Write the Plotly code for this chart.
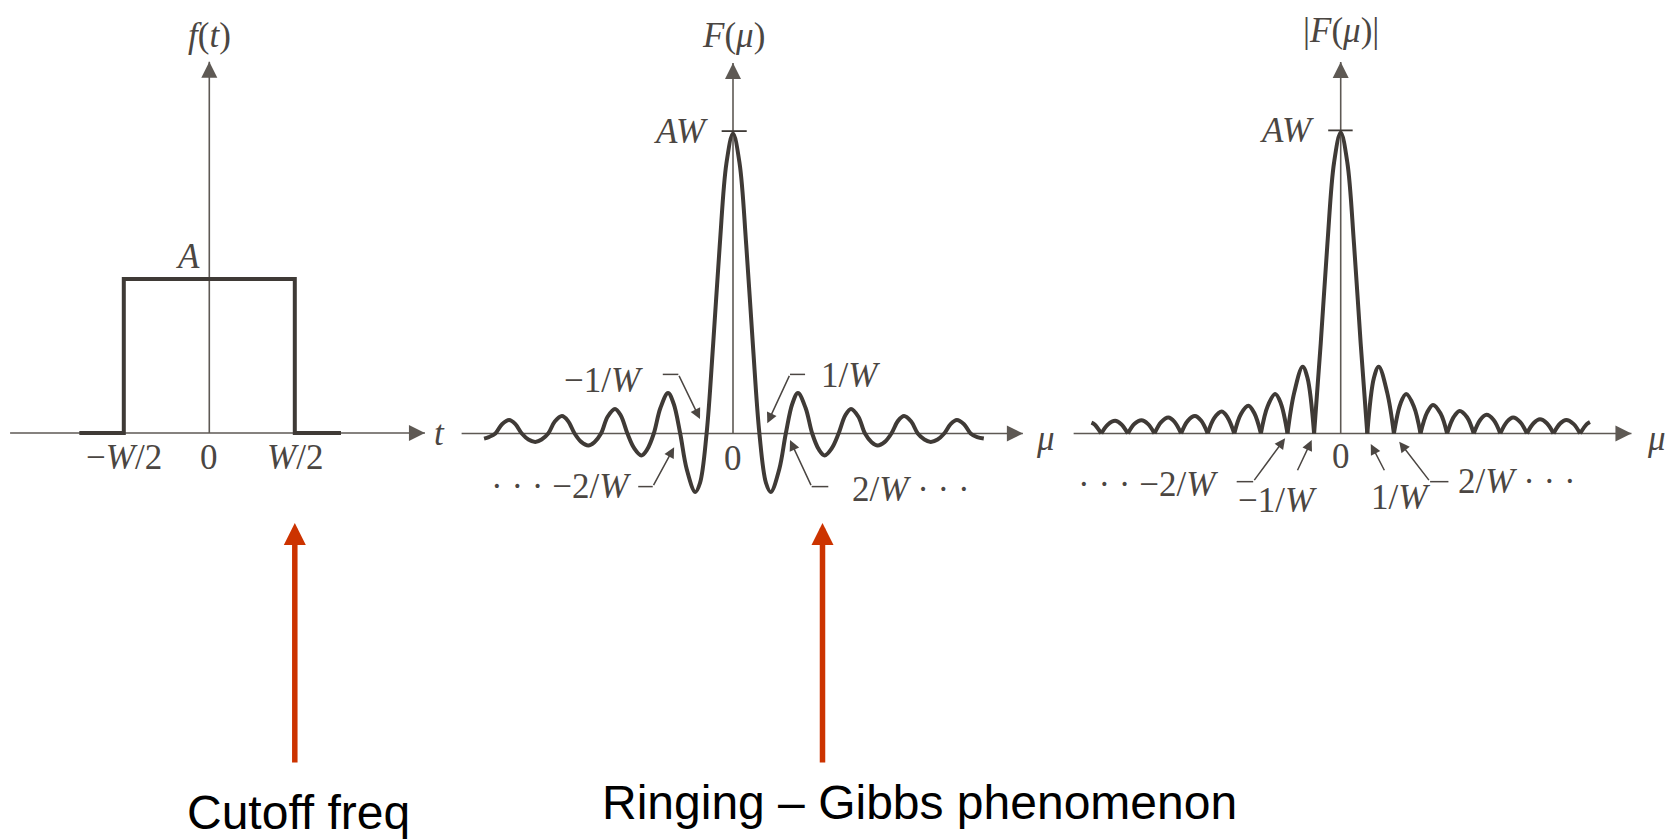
import plotly.graph_objects as go

W_PX, H_PX = 1675, 839

# ---------------- data ----------------
# panel 1 : rectangular pulse f(t), t in units of W, f in units of A
box_t = [-0.76, -0.5, -0.5, 0.5, 0.5, 0.77]
box_f = [0, 0, 1, 1, 0, 0]

# panel 2 : F(mu), mu in units of 1/W, F in units of AW
mu_F = [-9.43, -9.25, -9, -8.75, -8.48, -8.25, -8, -7.75, -7.49, -7.25, -7,
        -6.75, -6.48, -6.25, -6, -5.75, -5.48, -5.25, -5, -4.75, -4.47, -4.25,
        -4, -3.75, -3.47, -3.25, -3, -2.75, -2.46, -2.25, -2, -1.75, -1.43,
        -1.25, -1, -0.75, -0.5, -0.25, 0, 0.25, 0.5, 0.75, 1, 1.25, 1.43, 1.75,
        2, 2.25, 2.46, 2.75, 3, 3.25, 3.47, 3.75, 4, 4.25, 4.47, 4.75, 5, 5.25,
        5.48, 5.75, 6, 6.25, 6.48, 6.75, 7, 7.25, 7.49, 7.75, 8, 8.25, 8.48,
        8.75, 9, 9.25, 9.5]
F_val = [-0.017, -0.012, 0, 0.031, 0.045, 0.032, 0, -0.02, -0.028, -0.02, 0,
         0.040, 0.058, 0.042, 0, -0.028, -0.040, -0.029, 0, 0.056, 0.082, 0.060,
         0, -0.048, -0.073, -0.053, 0, 0.085, 0.135, 0.10, 0, -0.12, -0.195,
         -0.165, 0, 0.30, 0.63, 0.90, 1.0, 0.90, 0.63, 0.30, 0, -0.165, -0.195,
         -0.12, 0, 0.10, 0.135, 0.085, 0, -0.053, -0.073, -0.048, 0, 0.060,
         0.082, 0.056, 0, -0.029, -0.040, -0.028, 0, 0.042, 0.058, 0.040, 0,
         -0.02, -0.028, -0.02, 0, 0.032, 0.045, 0.031, 0, -0.012, -0.017]

# panel 3 : |F(mu)| — lobes between consecutive zeros (outward from 0)
mag_zeros_r = [1, 2, 3, 4, 5, 6, 7, 8, 9]
mag_peak_mu_r = [1.43, 2.46, 3.47, 4.47, 5.48, 6.48, 7.49, 8.48]
mag_peak_r = [0.222, 0.131, 0.095, 0.075, 0.062, 0.053, 0.047, 0.045]
mag_q1_r = [0.185, 0.100, 0.070, 0.055, 0.046, 0.039, 0.034, 0.033]
mag_q3_r = [0.135, 0.090, 0.067, 0.054, 0.045, 0.038, 0.034, 0.032]
mag_peak_l = [0.222, 0.131, 0.092, 0.073, 0.058, 0.053, 0.044, 0.042]
mag_q1_l = [0.185, 0.100, 0.068, 0.053, 0.043, 0.039, 0.032, 0.031]
mag_q3_l = [0.135, 0.090, 0.065, 0.052, 0.042, 0.038, 0.032, 0.030]
mag_main_mu = [-1, -0.75, -0.5, -0.25, 0, 0.25, 0.5, 0.75, 1]
mag_main_val = [0, 0.30, 0.63, 0.90, 1.0, 0.90, 0.63, 0.30, 0]
mag_end_mu = [9.25, 9.37]          # partial lobes at both ends (mirrored)
mag_end_l = [0.030, 0.036]
mag_end_r = [0.031, 0.038]

# labels
p1_ticks = [-0.5, 0, 0.5]
p1_ticklabels = ["\u2212<i>W</i>/2", "0", "<i>W</i>/2"]

# ---------------- geometry ----------------
GEOM = {
    1: dict(x0=209.3, ux=171.0, y0=433.0, uy=154.0),
    2: dict(x0=733.0, ux=26.4, y0=433.5, uy=300.0),
    3: dict(x0=1340.7, ux=26.6, y0=433.5, uy=301.0),
}
AXIS_EXT = {  # horizontal axis start/tip, vertical tip (data units)
    1: dict(xs=-1.165, xt=1.261, yt=2.41),
    2: dict(xs=-10.28, xt=10.98, yt=1.235),
    3: dict(xs=-10.04, xt=10.93, yt=1.234),
}

CURVE = "#3f3a36"
AXC = "#5e5954"
TXT = "#4b4642"
RED = "#cc3300"
SERIF = "Liberation Serif"
FS = 35
LW = 4.0


def xr(g):
    return [(0 - g["x0"]) / g["ux"], (W_PX - g["x0"]) / g["ux"]]


def yr(g):
    return [(g["y0"] - H_PX) / g["uy"], g["y0"] / g["uy"]]


def ax_names(i):
    return ("x" if i == 1 else f"x{i}"), ("y" if i == 1 else f"y{i}")


fig = go.Figure()

# axes with arrowheads
for i in (1, 2, 3):
    xa, ya = ax_names(i)
    e = AXIS_EXT[i]
    fig.add_trace(go.Scatter(x=[e["xs"], e["xt"]], y=[0, 0], mode="lines",
                             line=dict(color=AXC, width=1.6), xaxis=xa, yaxis=ya,
                             hoverinfo="skip", showlegend=False))
    fig.add_trace(go.Scatter(x=[0, 0], y=[0, e["yt"]], mode="lines",
                             line=dict(color=AXC, width=1.6), xaxis=xa, yaxis=ya,
                             hoverinfo="skip", showlegend=False))
    fig.add_trace(go.Scatter(x=[e["xt"]], y=[0], mode="markers",
                             marker=dict(symbol="arrow-right", size=16, color=AXC,
                                         line=dict(width=0)),
                             xaxis=xa, yaxis=ya, hoverinfo="skip", showlegend=False))
    fig.add_trace(go.Scatter(x=[0], y=[e["yt"]], mode="markers",
                             marker=dict(symbol="arrow-up", size=16, color=AXC,
                                         line=dict(width=0)),
                             xaxis=xa, yaxis=ya, hoverinfo="skip", showlegend=False))

# panel 1 curve
fig.add_trace(go.Scatter(x=box_t, y=box_f, mode="lines",
                         line=dict(color=CURVE, width=LW), xaxis="x", yaxis="y",
                         showlegend=False))

# panel 2 curve
fig.add_trace(go.Scatter(x=mu_F, y=F_val, mode="lines",
                         line=dict(color=CURVE, width=LW, shape="spline", smoothing=1.0),
                         xaxis="x2", yaxis="y2", showlegend=False))

# panel 3 curve : each lobe its own spline piece so the cusps stay sharp
mx, my = [], []
mx += [-mag_end_mu[1], -mag_end_mu[0], -mag_zeros_r[-1], None]
my += [mag_end_l[1], mag_end_l[0], 0, None]
for k in reversed(range(len(mag_peak_mu_r))):
    z_in, z_out = -mag_zeros_r[k], -mag_zeros_r[k + 1]
    mx += [z_out, z_out + 0.25, -mag_peak_mu_r[k], z_in - 0.25, z_in, None]
    my += [0, mag_q3_l[k], mag_peak_l[k], mag_q1_l[k], 0, None]
mx += mag_main_mu + [None]
my += mag_main_val + [None]
for k in range(len(mag_peak_mu_r)):
    z_in, z_out = mag_zeros_r[k], mag_zeros_r[k + 1]
    mx += [z_in, z_in + 0.25, mag_peak_mu_r[k], z_out - 0.25, z_out, None]
    my += [0, mag_q1_r[k], mag_peak_r[k], mag_q3_r[k], 0, None]
mx += [mag_zeros_r[-1], mag_end_mu[0], mag_end_mu[1]]
my += [0, mag_end_r[0], mag_end_r[1]]
fig.add_trace(go.Scatter(x=mx, y=my, mode="lines", connectgaps=False,
                         line=dict(color=CURVE, width=LW, shape="spline", smoothing=1.0),
                         xaxis="x3", yaxis="y3", showlegend=False))

# AW tick marks
shapes = [
    dict(type="line", xref="x2", yref="y2", x0=-0.43, x1=0.52, y0=1.008, y1=1.008,
         line=dict(color=CURVE, width=1.8)),
    dict(type="line", xref="x3", yref="y3", x0=-0.47, x1=0.45, y0=1.007, y1=1.007,
         line=dict(color=CURVE, width=1.8)),
]

anns = []


def txt(i, x, y, s, xanchor="center", size=FS):
    xa, ya = ax_names(i)
    anns.append(dict(xref=xa, yref=ya, x=x, y=y, text=s, showarrow=False,
                     xanchor=xanchor, yanchor="middle",
                     font=dict(family=SERIF, size=size, color=TXT)))


# panel 1 labels
txt(1, 0, 2.584, "<i>f</i>(<i>t</i>)")
txt(1, 1.30, 0.0, "<i>t</i>", xanchor="left")
txt(1, -0.125, 1.143, "<i>A</i>")
for t, lab in zip(p1_ticks, p1_ticklabels):
    txt(1, t, -0.162, lab)

# panel 2 labels
txt(2, 0, 1.328, "<i>F</i>(<i>\u03bc</i>)")
txt(2, 11.4, -0.015, "<i>\u03bc</i>", xanchor="left")
txt(2, -0.87, 1.006, "<i>AW</i>", xanchor="right")
txt(2, 0, -0.083, "0")
txt(2, -3.35, 0.178, "\u22121/<i>W</i>", xanchor="right")
txt(2, -3.80, -0.178, "\u00b7 \u00b7 \u00b7 \u22122/<i>W</i>", xanchor="right")
txt(2, 3.24, 0.192, "1/<i>W</i>", xanchor="left")
txt(2, 4.43, -0.185, "2/<i>W</i> \u00b7 \u00b7 \u00b7", xanchor="left")

# panel 3 labels
txt(3, 0, 1.34, "|<i>F</i>(<i>\u03bc</i>)|")
txt(3, 11.45, -0.015, "<i>\u03bc</i>", xanchor="left")
txt(3, -0.93, 1.006, "<i>AW</i>", xanchor="right")
txt(3, 0, -0.077, "0")
txt(3, -4.55, -0.168, "\u00b7 \u00b7 \u00b7 \u22122/<i>W</i>", xanchor="right")
txt(3, -2.38, -0.224, "\u22121/<i>W</i>")
txt(3, 2.23, -0.214, "1/<i>W</i>")
txt(3, 4.35, -0.160, "2/<i>W</i> \u00b7 \u00b7 \u00b7", xanchor="left")

# leader lines: horizontal segment (x-from, x-to, y), arrow tail -> tip
leaders = [
    (2, (-2.66, -2.07, 0.197), (-2.07, 0.197), (-1.25, 0.048)),
    (2, (-3.59, -3.04, -0.177), (-3.04, -0.177), (-2.23, -0.046)),
    (2, (2.16, 2.73, 0.197), (2.16, 0.197), (1.30, 0.034)),
    (2, (2.98, 3.61, -0.177), (2.98, -0.177), (2.16, -0.022)),
    (3, (-3.91, -3.29, -0.160), (-3.29, -0.160), (-2.09, -0.016)),
    (3, None, (-1.65, -0.127), (-1.09, -0.022)),
    (3, None, (1.67, -0.127), (1.13, -0.035)),
    (3, (3.36, 4.05, -0.160), (3.36, -0.160), (2.20, -0.027)),
]
for i, hseg, tail, tip in leaders:
    xa, ya = ax_names(i)
    if hseg is not None:
        shapes.append(dict(type="line", xref=xa, yref=ya, x0=hseg[0], x1=hseg[1],
                           y0=hseg[2], y1=hseg[2], line=dict(color=TXT, width=1.5)))
    anns.append(dict(xref=xa, yref=ya, axref=xa, ayref=ya, x=tip[0], y=tip[1],
                     ax=tail[0], ay=tail[1], text="", showarrow=True,
                     arrowhead=2, arrowsize=1.4, arrowwidth=1.5, arrowcolor=TXT,
                     standoff=0, startstandoff=0))

# red arrows and captions
anns.append(dict(xref="x", yref="y", axref="x", ayref="y", x=0.5, y=-0.584,
                 ax=0.5, ay=-2.149, text="", showarrow=True, arrowhead=2,
                 arrowsize=0.8, arrowwidth=5.5, arrowcolor=RED))
anns.append(dict(xref="x2", yref="y2", axref="x2", ayref="y2", x=3.39, y=-0.298,
                 ax=3.39, ay=-1.102, text="", showarrow=True, arrowhead=2,
                 arrowsize=0.8, arrowwidth=5.5, arrowcolor=RED))
anns.append(dict(xref="paper", yref="paper", x=298 / W_PX, y=1 - 812 / H_PX,
                 text="Cutoff freq", showarrow=False, xanchor="center", yanchor="middle",
                 font=dict(family="Liberation Sans", size=48, color="#000000")))
anns.append(dict(xref="paper", yref="paper", x=919 / W_PX, y=1 - 802 / H_PX,
                 text="Ringing \u2013 Gibbs phenomenon", showarrow=False,
                 xanchor="center", yanchor="middle",
                 font=dict(family="Liberation Sans", size=48, color="#000000")))

layout = dict(width=W_PX, height=H_PX, margin=dict(l=0, r=0, t=0, b=0),
              paper_bgcolor="white", plot_bgcolor="rgba(0,0,0,0)",
              showlegend=False, shapes=shapes, annotations=anns)
for i in (1, 2, 3):
    g = GEOM[i]
    xk = "xaxis" if i == 1 else f"xaxis{i}"
    yk = "yaxis" if i == 1 else f"yaxis{i}"
    layout[xk] = dict(domain=[0, 1], range=xr(g), visible=False, fixedrange=True,
                      anchor="y" if i == 1 else f"y{i}")
    layout[yk] = dict(domain=[0, 1], range=yr(g), visible=False, fixedrange=True,
                      anchor="x" if i == 1 else f"x{i}")
fig.update_layout(**layout)

fig.write_html("out.html",
               config={"displayModeBar": False, "staticPlot": True},
               post_script="document.body.style.margin='0px';"
                           "document.body.style.overflow='hidden';")
